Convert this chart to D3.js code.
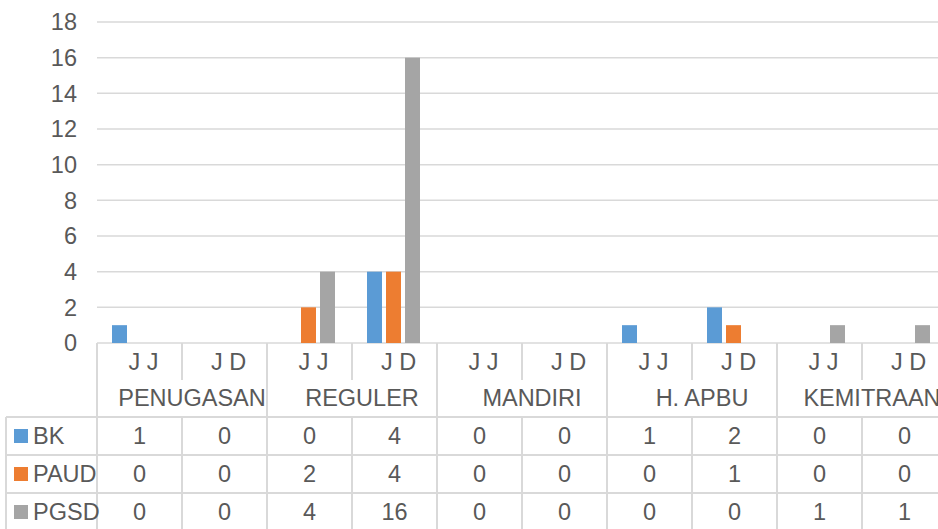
<!DOCTYPE html>
<html lang="en">
<head>
    <meta charset="UTF-8">
    <title>BK / PAUD / PGSD</title>
    <script src="https://d3js.org/d3.v7.min.js"></script>
    <style>
        body { margin: 0; background: #fff; }
        svg text { font-family: "Liberation Sans", Arial, sans-serif; fill: #595959; }
    </style>
</head>
<body>
<div id="chart"></div>
<script>
    // Data
    const groups = ["PENUGASAN", "REGULER", "MANDIRI", "H. APBU", "KEMITRAAN"];
    const subLabels = ["J J", "J D"];
    const seriesNames = ["BK", "PAUD", "PGSD"];
    const bkValues = [1, 0, 0, 4, 0, 0, 1, 2, 0, 0];
    const paudValues = [0, 0, 2, 4, 0, 0, 0, 1, 0, 0];
    const pgsdValues = [0, 0, 4, 16, 0, 0, 0, 0, 1, 1];
    const yTicks = [0, 2, 4, 6, 8, 10, 12, 14, 16, 18];
    const colors = ["#5B9BD5", "#ED7D31", "#A5A5A5"];

    const seriesValues = [bkValues, paudValues, pgsdValues];
    const categories = d3.range(groups.length * subLabels.length);

    const width = 938, height = 529;
    const plotLeft = 97, catW = 85;
    const yBase = 343, yTop = 22;
    const grid = "#D9D9D9";
    const fontSize = 23.5;

    const svg = d3.select("#chart").append("svg")
        .attr("width", width)
        .attr("height", height);

    const x = d3.scaleBand()
        .domain(categories)
        .range([plotLeft, plotLeft + catW * categories.length])
        .padding(0);

    const xGroup = d3.scaleBand()
        .domain(groups)
        .range([plotLeft, plotLeft + catW * categories.length])
        .padding(0);

    const xSeries = d3.scaleBand()
        .domain(seriesNames)
        .range([15, 68])
        .paddingInner(4 / 19)
        .paddingOuter(0);

    const y = d3.scaleLinear().domain([0, 18]).range([yBase, yTop]);

    // gridlines
    svg.append("g")
        .selectAll("line")
        .data(yTicks)
        .join("line")
        .attr("x1", plotLeft)
        .attr("x2", width)
        .attr("y1", d => y(d))
        .attr("y2", d => y(d))
        .attr("stroke", grid)
        .attr("stroke-width", 1.5);

    // y tick labels
    svg.append("g")
        .selectAll("text")
        .data(yTicks)
        .join("text")
        .attr("x", 77)
        .attr("y", d => y(d))
        .attr("dy", "0.36em")
        .attr("text-anchor", "end")
        .attr("font-size", fontSize)
        .text(d => d);

    // bars
    seriesNames.forEach((s, si) => {
        svg.append("g")
            .selectAll("rect")
            .data(seriesValues[si])
            .join("rect")
            .attr("x", (d, i) => x(i) + xSeries(s))
            .attr("width", xSeries.bandwidth())
            .attr("y", d => y(d))
            .attr("height", d => y(0) - y(d))
            .attr("fill", colors[si]);
    });

    // data table lines
    const rowTop = 417, rowH = 38;
    const tableBottom = rowTop + rowH * seriesNames.length;
    const lines = svg.append("g").attr("stroke", grid).attr("stroke-width", 2);

    // vertical lines between sub categories (short in header, full in rows)
    categories.forEach(i => {
        const xx = x(i);
        const isGroupEdge = i % subLabels.length === 0;
        lines.append("line")
            .attr("x1", xx).attr("x2", xx)
            .attr("y1", yBase)
            .attr("y2", isGroupEdge ? tableBottom : 380);
        if (!isGroupEdge) {
            lines.append("line")
                .attr("x1", xx).attr("x2", xx)
                .attr("y1", rowTop).attr("y2", tableBottom);
        }
    });
    // left edge of legend column
    lines.append("line")
        .attr("x1", 6).attr("x2", 6)
        .attr("y1", rowTop).attr("y2", tableBottom);
    // horizontal row lines
    d3.range(seriesNames.length + 1).forEach(r => {
        lines.append("line")
            .attr("x1", 6).attr("x2", width)
            .attr("y1", rowTop + r * rowH)
            .attr("y2", rowTop + r * rowH);
    });

    // sub category labels
    svg.append("g")
        .selectAll("text")
        .data(categories)
        .join("text")
        .attr("x", i => x(i) + x.bandwidth() / 2 + 4)
        .attr("y", 362)
        .attr("dy", "0.36em")
        .attr("text-anchor", "middle")
        .attr("font-size", fontSize)
        .text(i => subLabels[i % subLabels.length]);

    // group labels
    svg.append("g")
        .selectAll("text")
        .data(groups)
        .join("text")
        .attr("x", g => xGroup(g) + xGroup.bandwidth() / 2 + 10)
        .attr("y", 398)
        .attr("dy", "0.36em")
        .attr("text-anchor", "middle")
        .attr("font-size", fontSize)
        .text(g => g);

    // table rows
    seriesNames.forEach((s, si) => {
        const cy = rowTop + rowH * si + rowH / 2;
        const row = svg.append("g");
        row.append("rect")
            .attr("x", 14)
            .attr("y", cy - 7)
            .attr("width", 14)
            .attr("height", 14)
            .attr("fill", colors[si]);
        row.append("text")
            .attr("x", 33)
            .attr("y", cy)
            .attr("dy", "0.36em")
            .attr("font-size", fontSize)
            .text(s);
        row.selectAll("text.val")
            .data(seriesValues[si])
            .join("text")
            .attr("class", "val")
            .attr("x", (d, i) => x(i) + x.bandwidth() / 2)
            .attr("y", cy)
            .attr("dy", "0.36em")
            .attr("text-anchor", "middle")
            .attr("font-size", fontSize)
            .text(d => d);
    });
</script>
</body>
</html>
